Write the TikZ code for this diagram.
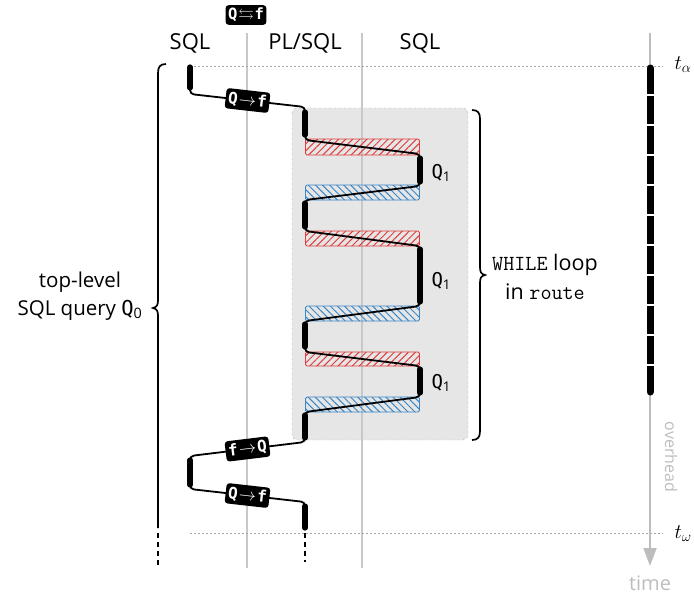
\documentclass[tikz,border=0pt]{standalone}
\usepackage{amssymb}
\usepackage{fontspec}
\setmainfont{Open Sans}
\newfontfamily\codefont{DejaVu Sans Mono}
\usetikzlibrary{patterns.meta,arrows.meta,calc}

\definecolor{lanegray}{HTML}{C8C8C8}
\definecolor{loopfill}{HTML}{E6E6E6}
\definecolor{outred}{HTML}{E03C3C}
\definecolor{inblue}{HTML}{3B86C6}
\definecolor{timegray}{HTML}{BDBDBD}

\newcommand{\qto}{Q\kern1.2pt$\rightarrow$\kern1.2pt f}
\newcommand{\fto}{f\kern1.2pt$\rightarrow$\kern1.2pt Q}
\newcommand{\qsub}[1]{{\codefont Q}\textsubscript{#1}}

\begin{document}
\begin{tikzpicture}[x=1pt,y=-1pt,
  lane/.style={draw=lanegray, line width=1.6pt},
  guide/.style={draw=black!35, line width=0.6pt, dash pattern=on 1.5pt off 2.5pt},
  busy/.style={line width=5.2pt, line cap=round},
  hop/.style={line width=1.8pt, rounded corners=4pt},
  badge/.style={fill=black, text=white, rounded corners=3pt, inner xsep=2.5pt, inner ysep=3pt,
    font=\codefont\bfseries\fontsize{16}{16}\selectfont},
  heading/.style={font=\fontsize{22}{24}\selectfont},
  label/.style={font=\fontsize{20.5}{28}\selectfont, align=center},
  qlabel/.style={font=\fontsize{19}{22}\selectfont},
  outbox/.style={draw=outred, line width=0.9pt, rounded corners=1.5pt,
    pattern={Lines[angle=45,distance=5pt,line width=1pt]}, pattern color=outred},
  inbox/.style={draw=inblue, line width=0.9pt, rounded corners=1.5pt,
    pattern={Lines[angle=-45,distance=5pt,line width=1pt]}, pattern color=inblue},
  brace/.style={line width=1.7pt},
]
\useasboundingbox (0,0) rectangle (694,598);

% loop region
\draw[fill=loopfill, draw=black!30, dash pattern=on 2pt off 3pt, rounded corners=5pt]
  (292,108) rectangle (468,440);

% lane separators and column headings
\draw[lane] (247,33) -- (247,568);
\draw[lane] (362,33) -- (362,568);
\node[heading] (hsql1) at (190,43) {SQL};
\node[heading] (hpl)   at (305,43) {PL/SQL};
\node[heading] (hsql2) at (420,43) {SQL};
\node[badge, font=\codefont\bfseries\fontsize{15.5}{15.5}\selectfont, inner ysep=2.5pt, inner xsep=2.5pt] (switch) at (246,15) {Q\kern0.8pt$\leftrightarrows$\kern0.8pt f};

% start / end of the query
\draw[guide] (190,66) -- (663,66);
\draw[guide] (190,533) -- (663,533);
\node[font=\fontsize{22}{22}\selectfont, anchor=west] (talpha) at (671,65) {$t_\alpha$};
\node[font=\fontsize{22}{22}\selectfont, anchor=west] (tomega) at (671,534) {$t_\omega$};

% time axis
\coordinate (tstart) at (650,33);
\coordinate (tend) at (650,566);
\draw[draw=timegray, line width=2pt, -{Triangle[length=18pt,width=13pt]}] (tstart) -- (tend);
\node[font=\fontsize{20}{20}\selectfont, text=timegray] (time) at (650,583) {time};
\node[font=\fontsize{16}{16}\selectfont, text=timegray, rotate=-90] (overhead) at (671,457) {overhead};
\coordinate (work0) at (650,68);
\coordinate (work1) at (650,392);
\draw[line width=7pt, line cap=round] (work0) -- (work1);
\foreach \g in {94.5,124.5,154.5,184.5,214.5,244.5,274.5,304.5,334.5,364.5}
  \draw[white, line width=2pt] (644,\g) -- (656,\g);

% hatched context switches
\foreach \t/\b in {139/155,231/246,352/366}
  \draw[outbox] (305.5,\t) rectangle (419.5,\b);
\foreach \t/\b in {185/200,306/321,397/412}
  \draw[inbox] (305.5,\t) rectangle (419.5,\b);

% thread of control
\coordinate (a0) at (190,67);  \coordinate (a1) at (190,88);
\coordinate (b0) at (305,112); \coordinate (b1) at (305,135);
\coordinate (c0) at (420,158); \coordinate (c1) at (420,182);
\coordinate (d0) at (305,203); \coordinate (d1) at (305,227);
\coordinate (e0) at (420,249); \coordinate (e1) at (420,302);
\coordinate (f0) at (305,324); \coordinate (f1) at (305,347);
\coordinate (g0) at (420,369); \coordinate (g1) at (420,393);
\coordinate (h0) at (305,415); \coordinate (h1) at (305,438);
\coordinate (i0) at (190,460); \coordinate (i1) at (190,485);
\coordinate (j0) at (305,506); \coordinate (j1) at (305,528);
\coordinate (jend) at (305,562);

\foreach \p in {a,b,c,d,e,f,g,h,i,j}
  \draw[busy] (\p0) -- (\p1);

\draw[hop] (a1) -- ++(0,6) -- node[badge, sloped] (qf1) {\qto} ($(b0)+(0,-5)$) -- (b0);
\draw[hop] (b1) -- ++(0,5) -- ($(c0)+(0,-4)$) -- (c0);
\draw[hop] (c1) -- ++(0,4) -- ($(d0)+(0,-3)$) -- (d0);
\draw[hop] (d1) -- ++(0,4) -- ($(e0)+(0,-3)$) -- (e0);
\draw[hop] (e1) -- ++(0,4) -- ($(f0)+(0,-3)$) -- (f0);
\draw[hop] (f1) -- ++(0,5) -- ($(g0)+(0,-3)$) -- (g0);
\draw[hop] (g1) -- ++(0,4) -- ($(h0)+(0,-3)$) -- (h0);
\draw[hop] (h1) -- ++(0,4) -- node[badge, sloped] (fq) {\fto} ($(i0)+(0,-4)$) -- (i0);
\draw[hop] (i1) -- ++(0,4) -- node[badge, sloped] (qf2) {\qto} ($(j0)+(0,-4)$) -- (j0);
\draw[line width=1.8pt, dash pattern=on 5pt off 4pt] ($(j1)+(0,5)$) -- (jend);

\node[qlabel, anchor=west] (q1a) at (428,173) {\qsub{1}};
\node[qlabel, anchor=west] (q1b) at (428,281) {\qsub{1}};
\node[qlabel, anchor=west] (q1c) at (428,383) {\qsub{1}};

% brace around the whole query
\draw[brace] (166,64) .. controls (160,64) and (158,67) .. (158,73)
  -- (158,300) .. controls (158,305) and (157,307) .. (153,308)
  .. controls (157,309) and (158,311) .. (158,316) -- (158,528);
\draw[brace, dash pattern=on 5pt off 4pt] (158,533) -- (158,566);
\node[label] (toplevel) at (80,296) {top-level\\SQL query \qsub{0}};

% brace around the loop
\draw[brace] (472,110) .. controls (478,110) and (480,113) .. (480,119)
  -- (480,267) .. controls (480,272) and (481,274) .. (485,275)
  .. controls (481,276) and (480,278) .. (480,283) -- (480,431)
  .. controls (480,437) and (478,440) .. (472,440);
\node[label, font=\fontsize{21.5}{29}\selectfont] (whileloop) at (545,277) {{\ttfamily WHILE} loop\\in {\ttfamily route}};
\end{tikzpicture}
\end{document}
